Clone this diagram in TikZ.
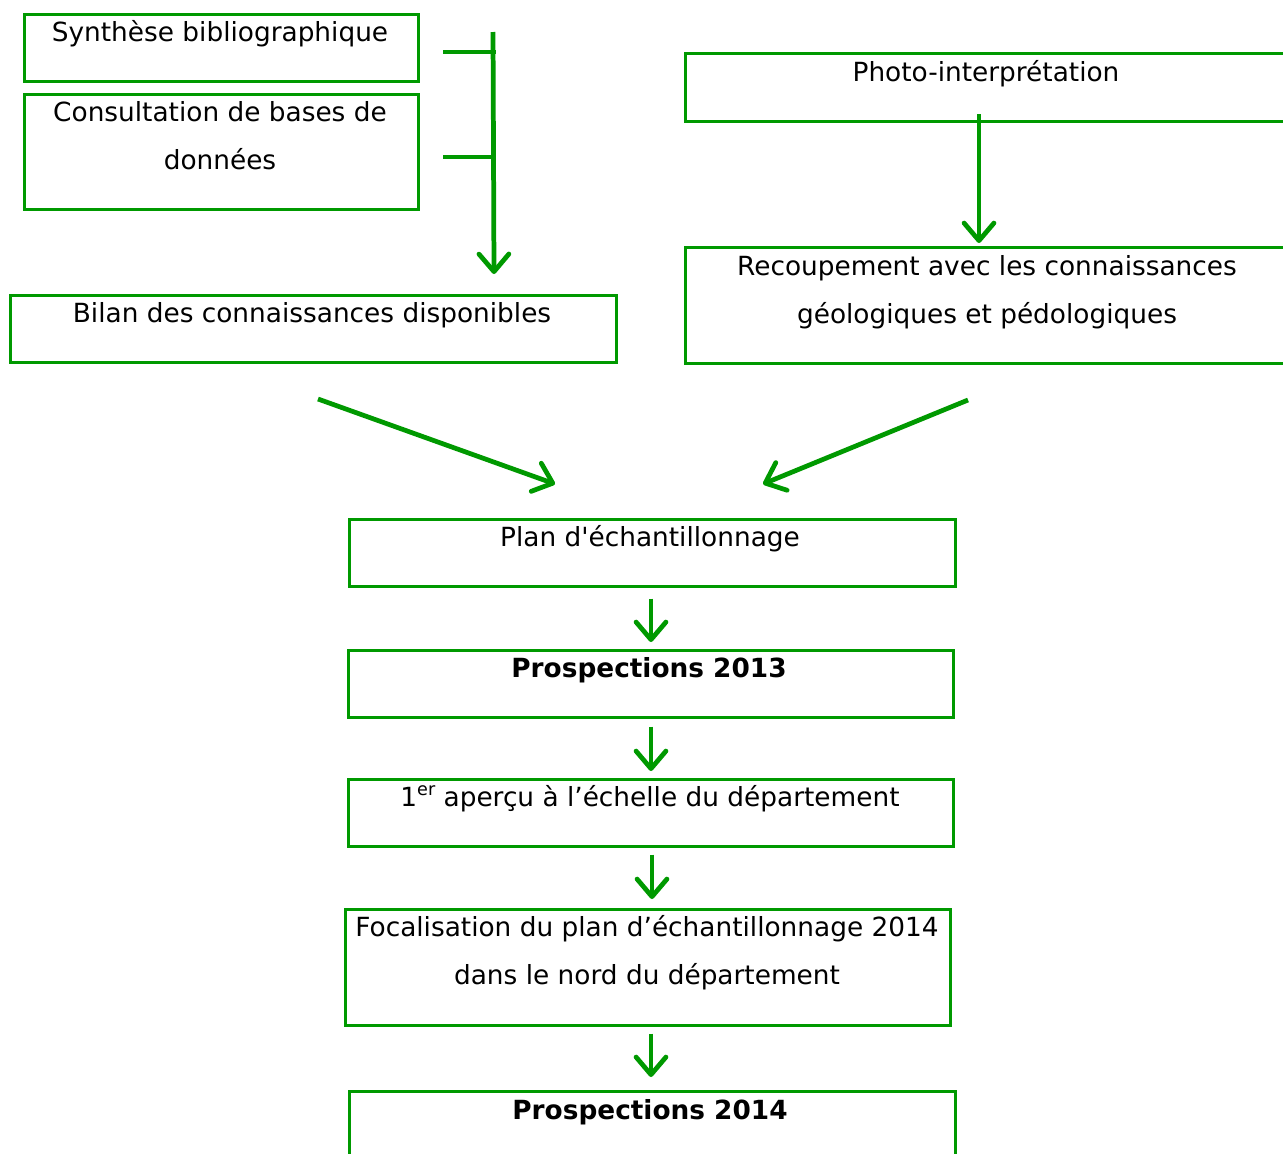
\documentclass[tikz,border=0pt]{standalone}
\usepackage{fontspec}
\setmainfont{DejaVu Sans}
\usetikzlibrary{arrows.meta}
\definecolor{flowgreen}{RGB}{0,153,0}

\begin{document}
\begin{tikzpicture}[x=0.02cm, y=-0.02cm,
    box/.style={draw=flowgreen, line width=1.5pt, anchor=north west, inner sep=0pt},
    txt/.style={anchor=base, align=center, inner sep=0pt, font={\fontsize{15}{27}\selectfont}},
    flow/.style={draw=flowgreen, line width=2.7pt, -{Straight Barb[length=10pt, width=17pt, round]}}]
    \clip (0,0) rectangle (1283,1153);

    % Boxes of the upper left branch
    \node[box, minimum width=394*0.02cm, minimum height=67*0.02cm] (synth) at (23,13) {};
    \node[txt] (synth-t) at (220,41) {Synthèse bibliographique};
    \node[box, minimum width=394*0.02cm, minimum height=115*0.02cm] (bases) at (23,93) {};
    \node[txt] (bases-t) at (220,169) {Consultation de bases de\\données};
    \node[box, minimum width=606*0.02cm, minimum height=67*0.02cm] (bilan) at (9,294) {};
    \node[txt] (bilan-t) at (312,322) {Bilan des connaissances disponibles};

    % Boxes of the upper right branch
    \node[box, minimum width=620*0.02cm, minimum height=68*0.02cm] (photo) at (684,52) {};
    \node[txt] (photo-t) at (986,81) {Photo-interprétation};
    \node[box, minimum width=620*0.02cm, minimum height=116*0.02cm] (recoup) at (684,246) {};
    \node[txt] (recoup-t) at (987,323) {Recoupement avec les connaissances\\géologiques et pédologiques};

    % Main column
    \node[box, minimum width=606*0.02cm, minimum height=67*0.02cm] (plan) at (348,518) {};
    \node[txt] (plan-t) at (650,546) {Plan d\textquotesingle échantillonnage};
    \node[box, minimum width=605*0.02cm, minimum height=67*0.02cm] (pros13) at (347,649) {};
    \node[txt] (pros13-t) at (649,677) {\textbf{Prospections 2013}};
    \node[box, minimum width=605*0.02cm, minimum height=67*0.02cm] (apercu) at (347,778) {};
    \node[txt] (apercu-t) at (650,806) {1\raisebox{0.75ex}{\fontsize{10}{10}\selectfont er} aperçu à l’échelle du département};
    \node[box, minimum width=605*0.02cm, minimum height=116*0.02cm] (focal) at (344,908) {};
    \node[txt] (focal-t) at (647,984) {Focalisation du plan d’échantillonnage 2014\\dans le nord du département};
    \node[box, minimum width=606*0.02cm, minimum height=120*0.02cm] (pros14) at (348,1090) {};
    \node[txt] (pros14-t) at (650,1119) {\textbf{Prospections 2014}};

    % Free ends of the connectors
    \coordinate (trunk-top) at (493,32);
    \coordinate (trunk-end) at (494,274);
    \coordinate (stub-a) at (443,52);
    \coordinate (stub-a-end) at (496,52);
    \coordinate (stub-b) at (443,157);
    \coordinate (stub-b-end) at (496,157);
    \coordinate (photo-out) at (979,114);
    \coordinate (recoup-in) at (979,243);
    \coordinate (bilan-out) at (318,399);
    \coordinate (plan-in-l) at (555,484);
    \coordinate (recoup-out) at (968,400);
    \coordinate (plan-in-r) at (763,484);

    % Connectors
    \draw[flow] (trunk-top) -- (trunk-end);
    \draw[draw=flowgreen, line width=2.7pt] (stub-a) -- (stub-a-end);
    \draw[draw=flowgreen, line width=2.7pt] (stub-b) -- (stub-b-end);
    \draw[flow] (photo-out) -- (recoup-in);
    \draw[flow] (bilan-out) -- (plan-in-l);
    \draw[flow] (recoup-out) -- (plan-in-r);
    \draw[flow] ([yshift=-11*0.02cm]plan.south -| 651,0) -- ([yshift=7*0.02cm]pros13.north -| 651,0);
    \draw[flow] ([yshift=-8*0.02cm]pros13.south -| 651,0) -- ([yshift=7*0.02cm]apercu.north -| 651,0);
    \draw[flow] ([yshift=-7*0.02cm]apercu.south -| 652,0) -- ([yshift=9*0.02cm]focal.north -| 652,0);
    \draw[flow] ([yshift=-7*0.02cm]focal.south -| 651,0) -- ([yshift=13*0.02cm]pros14.north -| 651,0);
\end{tikzpicture}
\end{document}
